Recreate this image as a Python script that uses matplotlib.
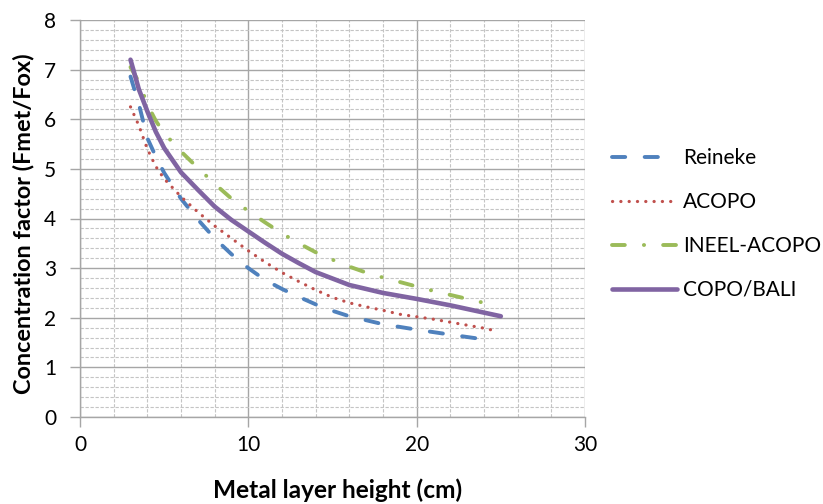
import matplotlib
matplotlib.use("Agg")
import matplotlib.pyplot as plt
from matplotlib.ticker import MultipleLocator

plt.rcParams['font.family'] = ['Lato', 'DejaVu Sans']

# Data
reineke_x = [3, 3.5, 4, 4.5, 5, 6, 7, 8, 9, 10, 11, 12, 13, 14, 15, 16, 18, 20, 22, 24.5]
reineke_y = [6.86, 6.3, 5.62, 5.25, 4.92, 4.4, 3.98, 3.6, 3.28, 3.0, 2.76, 2.58, 2.42, 2.27, 2.14, 2.03, 1.87, 1.76, 1.66, 1.54]

acopo_x = [3, 3.5, 4, 4.5, 5, 6, 7, 8, 9, 10, 11, 12, 13, 14, 15, 16, 17, 18, 19, 20, 21, 22, 23, 24, 24.5]
acopo_y = [6.25, 5.87, 5.4, 5.05, 4.8, 4.44, 4.13, 3.85, 3.6, 3.35, 3.12, 2.91, 2.73, 2.56, 2.41, 2.3, 2.22, 2.15, 2.07, 2.02, 1.97, 1.91, 1.85, 1.79, 1.75]

ineel_x = [3, 3.5, 4, 4.5, 5, 6, 7, 8, 9, 10, 11, 12, 13, 14, 15, 16, 17, 18, 19, 20, 21, 22, 23, 24.5]
ineel_y = [7.05, 6.75, 6.3, 5.97, 5.72, 5.35, 5.02, 4.7, 4.4, 4.15, 3.92, 3.7, 3.5, 3.32, 3.17, 3.03, 2.91, 2.81, 2.72, 2.63, 2.54, 2.46, 2.38, 2.26]

copo_x = [3, 3.5, 4, 4.5, 5, 6, 7, 8, 9, 10, 11, 12, 13, 14, 16, 18, 20, 22, 25]
copo_y = [7.2, 6.6, 6.16, 5.75, 5.42, 4.93, 4.58, 4.24, 3.97, 3.74, 3.51, 3.29, 3.1, 2.92, 2.66, 2.5, 2.38, 2.25, 2.03]

labels = ['Reineke', 'ACOPO', 'INEEL-ACOPO', 'COPO/BALI']
colors = ['#4F81BD', '#C0504D', '#9BBB59', '#8064A2']

x_ticks = [0, 10, 20, 30]
y_ticks = [0, 1, 2, 3, 4, 5, 6, 7, 8]

fig = plt.figure(figsize=(8.23, 5.04), dpi=100)
ax = fig.add_axes([80/823, 1-417/504, (585-80)/823, (417-20)/504])

ax.set_xlim(0, 30)
ax.set_ylim(0, 8)
ax.set_xticks(x_ticks)
ax.set_yticks(y_ticks)
ax.xaxis.set_minor_locator(MultipleLocator(2))
ax.yaxis.set_minor_locator(MultipleLocator(0.2))

ax.grid(which='major', color='#A6A6A6', linewidth=1.0, linestyle='-')
ax.grid(which='minor', color='#C4C4C4', linewidth=0.8, linestyle=(0, (3, 1.5)))
ax.set_axisbelow(True)

for s in ['top', 'right']:
    ax.spines[s].set_visible(False)
for s in ['left', 'bottom']:
    ax.spines[s].set_color('#A6A6A6')
    ax.spines[s].set_linewidth(1.0)

ax.tick_params(which='major', direction='out', length=7, width=1.0, color='#A6A6A6',
               labelsize=15, labelcolor='#000000')
ax.tick_params(axis='y', which='major', pad=10)
ax.tick_params(axis='x', which='major', pad=6)
ax.tick_params(which='minor', length=0)

lw = 2.8
l1, = ax.plot(reineke_x, reineke_y, color=colors[0], lw=lw, linestyle=(0, (3.4, 5.0)),
              dash_capstyle='round', label=labels[0])
l2, = ax.plot(acopo_x, acopo_y, color=colors[1], lw=2.3, linestyle=(0, (0.05, 2.55)),
              dash_capstyle='round', label=labels[1])
l3, = ax.plot(ineel_x, ineel_y, color=colors[2], lw=lw, linestyle=(0, (3.3, 4.9, 0.05, 4.9)),
              dash_capstyle='round', label=labels[2])
l4, = ax.plot(copo_x, copo_y, color=colors[3], lw=3.3, solid_capstyle='round', label=labels[3])

ax.set_xlabel('Metal layer height (cm)', fontsize=17.6, fontweight='bold', va='center')
ax.set_ylabel('Concentration factor (Fmet/Fox)', fontsize=16.9, fontweight='bold', va='center')
ax.xaxis.set_label_coords(338/823, 1-490/504, transform=fig.transFigure)
ax.yaxis.set_label_coords(24/823, 1-224/504, transform=fig.transFigure)

leg = fig.legend(handles=[l1, l2, l3, l4], loc='center left', bbox_to_anchor=(612/823, 1-224/504),
                 frameon=False, fontsize=15, handlelength=3.1, handletextpad=0.3,
                 labelspacing=1.15, borderpad=0, borderaxespad=0)

fig.savefig('out.png', dpi=100)
